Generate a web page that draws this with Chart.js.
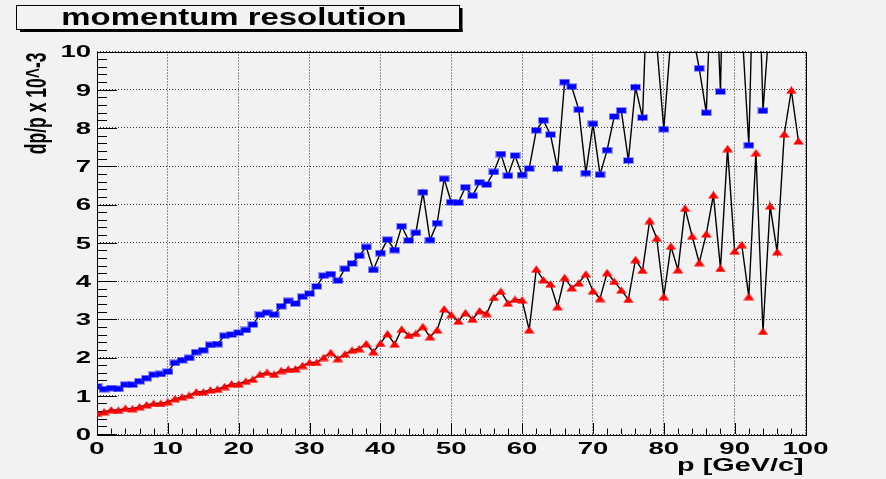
<!DOCTYPE html>
<html>
<head>
<meta charset="utf-8">
<script src="https://cdn.jsdelivr.net/npm/chart.js@4/dist/chart.umd.min.js"></script>
<style>
  html, body { margin: 0; padding: 0; background: #f2f2f2; }
  #wrap { width: 886px; height: 479px; position: relative; }
</style>
</head>
<body>
<div id="wrap"><canvas id="c" width="886" height="479"></canvas></div>
<script>
// momentum bins [GeV/c]
const momentum = [
  0, 1, 2, 3, 4, 5, 6, 7, 8, 9,
  10, 11, 12, 13, 14, 15, 16, 17, 18, 19,
  20, 21, 22, 23, 24, 25, 26, 27, 28, 29,
  30, 31, 32, 33, 34, 35, 36, 37, 38, 39,
  40, 41, 42, 43, 44, 45, 46, 47, 48, 49,
  50, 51, 52, 53, 54, 55, 56, 57, 58, 59,
  60, 61, 62, 63, 64, 65, 66, 67, 68, 69,
  70, 71, 72, 73, 74, 75, 76, 77, 78, 79,
  80, 81, 82, 83, 84, 85, 86, 87, 88, 89,
  90, 91, 92, 93, 94, 95, 96, 97, 98, 99
];

// dp/p (x 10^-3), blue squares
const resolutionBlue = [
  1.24, 1.17, 1.20, 1.18, 1.29, 1.29, 1.38, 1.46, 1.55, 1.57,
  1.63, 1.86, 1.93, 1.99, 2.14, 2.19, 2.33, 2.35, 2.57, 2.60,
  2.65, 2.72, 2.86, 3.12, 3.17, 3.12, 3.34, 3.48, 3.41, 3.59,
  3.67, 3.86, 4.14, 4.18, 4.01, 4.32, 4.46, 4.66, 4.89, 4.29,
  4.73, 5.08, 4.81, 5.43, 5.06, 5.26, 6.32, 5.07, 5.51, 6.67,
  6.06, 6.05, 6.45, 6.23, 6.58, 6.52, 6.85, 7.32, 6.75, 7.28,
  6.77, 6.94, 7.94, 8.20, 7.83, 6.94, 9.20, 9.08, 8.48, 6.82,
  8.11, 6.78, 7.42, 8.30, 8.46, 7.15, 9.07, 8.27, 13.4, 10.2,
  7.97, 10.36, 11.5, 11.0, 10.54, 9.56, 8.40, 13.5, 8.95, 18.0,
  12.5, 10.73, 7.55, 15.0, 8.45, 11.0, 12.0, 11.5, 13.0, 12.0
];

// dp/p (x 10^-3), red triangles
const resolutionRed = [
  0.54, 0.58, 0.63, 0.62, 0.67, 0.66, 0.71, 0.76, 0.80, 0.80,
  0.84, 0.92, 0.97, 1.01, 1.10, 1.10, 1.15, 1.17, 1.24, 1.31,
  1.31, 1.38, 1.43, 1.56, 1.61, 1.56, 1.66, 1.69, 1.70, 1.79,
  1.87, 1.87, 2.00, 2.13, 1.97, 2.09, 2.19, 2.23, 2.36, 2.15,
  2.37, 2.62, 2.35, 2.74, 2.58, 2.63, 2.81, 2.54, 2.72, 3.27,
  3.12, 2.95, 3.17, 3.00, 3.22, 3.15, 3.57, 3.73, 3.42, 3.52,
  3.50, 2.72, 4.31, 4.03, 3.92, 3.33, 4.09, 3.82, 3.95, 4.18,
  3.74, 3.54, 4.22, 3.99, 3.76, 3.52, 4.56, 4.28, 5.58, 5.12,
  3.59, 4.91, 4.29, 5.90, 5.17, 4.48, 5.23, 6.25, 4.33, 7.46,
  4.78, 4.95, 3.59, 7.35, 2.68, 5.96, 4.76, 7.84, 8.99, 7.66
];

const xTickLabels = ['0', '10', '20', '30', '40', '50', '60', '70', '80', '90', '100'];
const yTickLabels = ['0', '1', '2', '3', '4', '5', '6', '7', '8', '9', '10'];

const titleText = 'momentum resolution';
const xTitle = 'p [GeV/c]';
const yTitle = 'dp/p x 10^-3';

const FONT = '"Liberation Sans", Arial, Helvetica, sans-serif';
const BG = '#f2f2f2';

// small bitmap markers: wide blue box and red triangle
function boxMarker() {
  const c = document.createElement('canvas');
  c.width = 11; c.height = 7;
  const g = c.getContext('2d');
  g.fillStyle = 'rgba(70,70,255,0.5)';
  g.fillRect(0, 0, 11, 7);
  g.fillStyle = '#0000ff';
  g.fillRect(1, 1, 9, 5);
  return c;
}
function triMarker() {
  const c = document.createElement('canvas');
  c.width = 11; c.height = 8;
  const g = c.getContext('2d');
  g.fillStyle = '#ff0000';
  g.beginPath();
  g.moveTo(5.5, 0.2);
  g.lineTo(10.8, 7.6);
  g.lineTo(0.2, 7.6);
  g.closePath();
  g.fill();
  return c;
}

function toPoints(xs, ys) {
  return xs.map((x, i) => ({ x: x, y: ys[i] }));
}

// text widened horizontally
function wideText(ctx, text, x, y, sx, font, align, baseline) {
  ctx.save();
  ctx.translate(x, y);
  ctx.scale(sx, 1);
  ctx.font = font;
  ctx.textAlign = align;
  ctx.textBaseline = baseline;
  ctx.fillStyle = '#000';
  ctx.fillText(text, 0, 0);
  ctx.restore();
}

const frameAndLabels = {
  id: 'frameAndLabels',
  beforeDraw(chart) {
    const ctx = chart.ctx;
    ctx.save();
    ctx.fillStyle = BG;
    ctx.fillRect(0, 0, chart.width, chart.height);
    ctx.restore();
  },
  beforeDatasetsDraw(chart) {
    const ctx = chart.ctx;
    const a = chart.chartArea;
    const xs = chart.scales.x, ys = chart.scales.y;
    ctx.save();
    ctx.strokeStyle = '#000';
    ctx.lineWidth = 1;
    // frame
    ctx.strokeRect(Math.round(a.left) + 0.5, Math.round(a.top) + 0.5,
                   Math.round(a.right - a.left), Math.round(a.bottom - a.top));
    // inward ticks on y axis
    ctx.beginPath();
    for (let k = 0; k <= 50; k++) {
      const v = k * 0.2;
      const py = Math.round(ys.getPixelForValue(v)) + 0.5;
      const len = (k % 5 === 0) ? 20 : 10;
      ctx.moveTo(a.left, py);
      ctx.lineTo(a.left + len, py);
    }
    // inward ticks on x axis
    for (let k = 0; k <= 50; k++) {
      const v = k * 2;
      const px = Math.round(xs.getPixelForValue(v)) + 0.5;
      const len = (k % 5 === 0) ? 11 : 5.5;
      ctx.moveTo(px, a.bottom);
      ctx.lineTo(px, a.bottom - len);
    }
    ctx.stroke();
    ctx.restore();
  },
  afterDraw(chart) {
    const ctx = chart.ctx;
    const a = chart.chartArea;
    const xs = chart.scales.x, ys = chart.scales.y;
    const tickFont = 'bold 16px ' + FONT;

    yTickLabels.forEach(t => {
      const py = ys.getPixelForValue(Number(t));
      wideText(ctx, t, a.left - 6, py + 1.5, 1.72, tickFont, 'right', 'middle');
    });
    xTickLabels.forEach(t => {
      const px = xs.getPixelForValue(Number(t));
      wideText(ctx, t, px, a.bottom + 15.5, 1.72, tickFont, 'center', 'middle');
    });

    // x axis title, right aligned to the frame
    wideText(ctx, xTitle, a.right - 2, 466, 1.6, 'bold 18px ' + FONT, 'right', 'middle');

    // y axis title, rotated, end aligned to the top of the frame
    ctx.save();
    ctx.translate(38, a.top + 1);
    ctx.rotate(-Math.PI / 2);
    ctx.scale(1, 1.7);
    ctx.font = 'bold 17.5px ' + FONT;
    ctx.textAlign = 'right';
    ctx.textBaseline = 'middle';
    ctx.fillStyle = '#000';
    ctx.fillText(yTitle, 0, 0);
    ctx.restore();

    // title box with drop shadow
    ctx.save();
    ctx.fillStyle = '#000';
    ctx.fillRect(459.5, 8, 3, 24);
    ctx.fillRect(20, 29.5, 442.5, 2.5);
    ctx.fillStyle = BG;
    ctx.fillRect(17, 5.5, 442, 23.5);
    ctx.strokeStyle = '#000';
    ctx.lineWidth = 1;
    ctx.strokeRect(16.5, 5.5, 443, 24);
    ctx.restore();
    wideText(ctx, titleText, 234, 18.5, 1.37, 'bold 24px ' + FONT, 'center', 'middle');
  }
};

const chart = new Chart(document.getElementById('c'), {
  type: 'line',
  data: {
    datasets: [
      {
        label: 'blue',
        data: toPoints(momentum, resolutionBlue),
        borderColor: '#000',
        borderWidth: 1.4,
        pointStyle: boxMarker(),
        pointRadius: 4,
        tension: 0
      },
      {
        label: 'red',
        data: toPoints(momentum, resolutionRed),
        borderColor: '#000',
        borderWidth: 1.4,
        pointStyle: triMarker(),
        pointRadius: 4,
        tension: 0
      }
    ]
  },
  options: {
    responsive: false,
    devicePixelRatio: 1,
    animation: false,
    layout: { padding: { left: 0, right: 80.5, top: 51.5, bottom: 0 } },
    plugins: {
      legend: { display: false },
      title: { display: false },
      tooltip: { enabled: false }
    },
    scales: {
      x: {
        type: 'linear',
        min: 0, max: 100,
        ticks: { stepSize: 10, display: false },
        grid: { color: '#333', lineWidth: 1, drawTicks: false },
        border: { display: false, dash: [1, 2] },
        afterFit(scale) { scale.height = 45; }
      },
      y: {
        type: 'linear',
        min: 0, max: 10,
        ticks: { stepSize: 1, display: false },
        grid: { color: '#333', lineWidth: 1, drawTicks: false },
        border: { display: false, dash: [1, 2] },
        afterFit(scale) { scale.width = 97; }
      }
    }
  },
  plugins: [frameAndLabels]
});
</script>
</body>
</html>
